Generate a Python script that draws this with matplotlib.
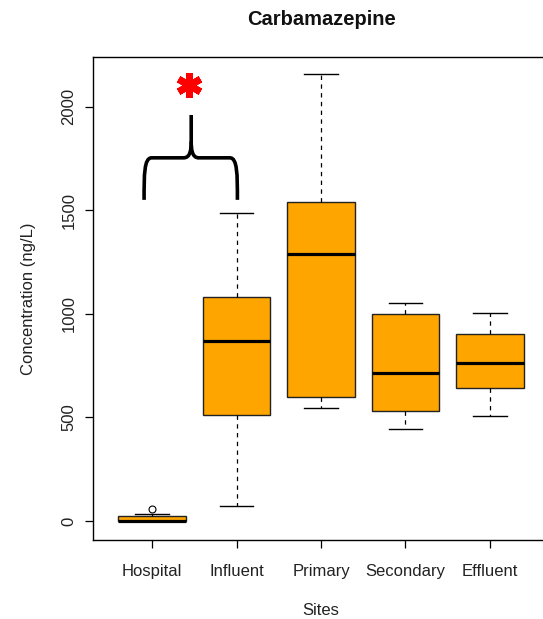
import matplotlib
matplotlib.use("Agg")
import matplotlib.pyplot as plt
from matplotlib.path import Path
from matplotlib.patches import PathPatch

plt.rcParams['font.family'] = ['Liberation Sans', 'DejaVu Sans']

sites = ["Hospital", "Influent", "Primary", "Secondary", "Effluent"]
whislo = [0, 72, 546, 444, 507]
q1 = [0, 512, 599, 531, 642]
med = [2, 870, 1290, 715, 763]
q3 = [22, 1082, 1541, 1000, 903]
whishi = [35, 1488, 2159, 1053, 1005]
fliers = [[58], [], [], [], []]
yticks = [0, 500, 1000, 1500, 2000]

title = "Carbamazepine"
xlabel = "Sites"
ylabel = "Concentration (ng/L)"

fig = plt.figure(figsize=(5.43, 6.19), dpi=100)
ax = fig.add_axes([93/543, 79/619, 456/543, 483/619])

stats = []
for i, s in enumerate(sites):
    stats.append(dict(label=s, whislo=whislo[i], q1=q1[i], med=med[i],
                      q3=q3[i], whishi=whishi[i], fliers=fliers[i]))

ax.bxp(stats, positions=range(1, len(sites) + 1), widths=0.8,
       patch_artist=True,
       boxprops=dict(facecolor="#FFA500", edgecolor="#222222", linewidth=1.0),
       medianprops=dict(color="black", linewidth=2.3, solid_capstyle="butt"),
       whiskerprops=dict(color="black", linewidth=0.9, linestyle=(0, (3.5, 3.5))),
       capprops=dict(color="black", linewidth=1.0),
       capwidths=0.4,
       flierprops=dict(marker="o", markerfacecolor="none", markeredgecolor="black",
                       markersize=5, markeredgewidth=0.8))

ax.set_xlim(0.3, 5.7)
ax.set_ylim(-92, 2241)
ax.set_yticks(yticks)
ax.set_yticklabels([str(v) for v in yticks], rotation=90, va="center")
ax.tick_params(axis="both", labelsize=12, length=6, width=0.9, colors="black",
               labelcolor="#222222")
ax.tick_params(axis="y", pad=6)
ax.tick_params(axis="x", pad=11)
for sp in ax.spines.values():
    sp.set_color("black")
    sp.set_linewidth(1.0)

ax.set_title(title, fontsize=14.5, fontweight="bold", pad=23, color="#111111")
ax.set_xlabel(xlabel, fontsize=12, labelpad=17.5, color="#222222")
ax.set_ylabel(ylabel, fontsize=12, labelpad=18, color="#222222")

# significance brace between Hospital and Influent
xl, xr, xm = 0.905, 2.01, 1.463
yb, yh, yt = 1551, 1754, 1961
dx = 0.09
dy = 80
verts = [
    (xl, yb), (xl, yh - dy), (xl, yh), (xl + dx, yh),
    (xm - dx, yh), (xm - 0.01, yh), (xm, yh + dy * 0.5), (xm, yh + dy),
    (xm, yt),
]
codes = [Path.MOVETO, Path.CURVE4, Path.CURVE4, Path.CURVE4,
         Path.LINETO, Path.CURVE4, Path.CURVE4, Path.CURVE4, Path.LINETO]
ax.add_patch(PathPatch(Path(verts, codes), fill=False, lw=2.6, color="black",
                       capstyle="butt", clip_on=False))
verts2 = [
    (xr, yb), (xr, yh - dy), (xr, yh), (xr - dx, yh),
    (xm + dx, yh), (xm + 0.01, yh), (xm, yh + dy * 0.5), (xm, yh + dy),
]
codes2 = [Path.MOVETO, Path.CURVE4, Path.CURVE4, Path.CURVE4,
          Path.LINETO, Path.CURVE4, Path.CURVE4, Path.CURVE4]
ax.add_patch(PathPatch(Path(verts2, codes2), fill=False, lw=2.6, color="black",
                       capstyle="butt", clip_on=False))

ax.plot([1.44], [2106], marker=(6, 2, 0), markersize=18, markeredgewidth=5,
        color="red", clip_on=False)

fig.savefig("out.png", dpi=100)
